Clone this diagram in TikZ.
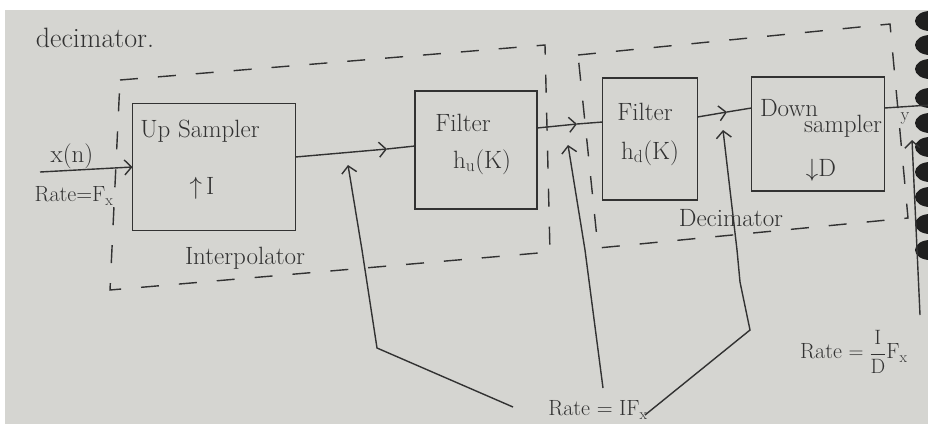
\documentclass[tikz,border=0pt]{standalone}
\usetikzlibrary{arrows.meta}
\definecolor{ink}{RGB}{50,50,50}
\definecolor{paper}{RGB}{213,213,209}

\begin{document}
\begin{tikzpicture}[x=1pt, y=-1pt,
  blk/.style={draw=ink, line width=1.6pt, inner sep=0pt, outer sep=0pt},
  grp/.style={draw=ink, line width=1.4pt, dash pattern=on 18pt off 20pt},
  sig/.style={draw=ink, line width=1.4pt},
  lbl/.style={text=ink, inner sep=0pt, font=\fontsize{25}{27}\selectfont},
  >={Straight Barb[length=7pt,width=15pt,line width=1.4pt]}]
\useasboundingbox (0,0) rectangle (928,424);
\fill[white] (0,0) rectangle (928,424);
\fill[paper] (5,10) rectangle (928,424);

\begin{scope}
\clip (0,0) rectangle (928,424);
\foreach \yy in {21,45,69,98,123,147,172,197,224,250}
  \fill[black!88] (930,\yy) ellipse (15pt and 10pt);
\end{scope}

\draw[grp] (120,80) -- (545,45) -- (550,252) -- (110,290) -- cycle;
\draw[grp] (578,55) -- (890,24) -- (908,218) -- (598,248) -- cycle;

\node[blk, minimum width=163pt, minimum height=127pt] (upS) at (214,167) {};
\node[blk, minimum width=122pt, minimum height=118pt] (filtU) at (476,150) {};
\node[blk, minimum width=95pt, minimum height=122pt] (filtD) at (650,139) {};
\node[blk, minimum width=133pt, minimum height=114pt] (downS) at (818,134) {};

\node[lbl, font=\fontsize{28}{30}\selectfont] (title) at (95,38) {decimator.};
\node[lbl] (upT) at (200,131) {Up Sampler};
\node[lbl] (upR) at (202,188) {$\uparrow$\,I};
\node[lbl] (intT) at (245,258) {Interpolator};
\node[lbl] (xn) at (72,156) {x(n)};
\node[lbl, font=\fontsize{22}{24}\selectfont] (rFx) at (74,196) {Rate=F\textsubscript{x}};
\node[lbl] (fuT) at (463,123) {Filter};
\node[lbl] (fuH) at (482,162) {h\textsubscript{u}(K)};
\node[lbl] (fdT) at (645,112) {Filter};
\node[lbl] (fdH) at (650,153) {h\textsubscript{d}(K)};
\node[lbl] (dsT) at (789,108) {Down};
\node[lbl] (dsS) at (843,126) {sampler};
\node[lbl] (dsR) at (821,170) {$\downarrow$D};
\node[lbl] (decT) at (731,218) {Decimator};
\node[lbl, font=\fontsize{18}{20}\selectfont] (yT) at (905,118) {y};
\node[lbl, font=\fontsize{22}{24}\selectfont] (rIF) at (598,410) {Rate = IF\textsubscript{x}};
\node[lbl, anchor=west, font=\fontsize{22}{24}\selectfont] (rID) at (800,352) {Rate $=\displaystyle\frac{\mathrm{I}}{\mathrm{D}}$F\textsubscript{x}};

\coordinate (xin) at (40,172);
\coordinate (m1) at (387,149);
\coordinate (m2) at (577,124);
\coordinate (m3) at (727,112);
\coordinate (yout) at (930,105);
\coordinate (t1) at (348,165);
\coordinate (t2) at (568,145);
\coordinate (t3) at (723,130);
\coordinate (t4) at (912,140);
\coordinate (f1) at (513,407);
\coordinate (f2) at (603,388);
\coordinate (f3) at (645,415);
\coordinate (f4) at (920,315);

\draw[sig,->] (xin) -- (upS.west);
\draw[sig,->] ([yshift=10pt]upS.east) -- (m1);
\draw[sig] (m1) -- ([yshift=4pt]filtU.west);
\draw[sig,->] ([yshift=22pt]filtU.east) -- (m2);
\draw[sig] (m2) -- ([yshift=17pt]filtD.west);
\draw[sig,->] ([yshift=22pt]filtD.east) -- (m3);
\draw[sig] (m3) -- ([yshift=26pt]downS.west);
\draw[sig] ([yshift=26pt]downS.east) -- (yout);

\draw[sig,->] (f1) -- (377,348) -- (362,250) -- (t1);
\draw[sig,->] (f2) -- (585,250) -- (t2);
\draw[sig,->] (f3) -- (750,330) -- (740,282) -- (737,250) -- (t3);
\draw[sig,->] (f4) -- (t4);
\end{tikzpicture}
\end{document}
